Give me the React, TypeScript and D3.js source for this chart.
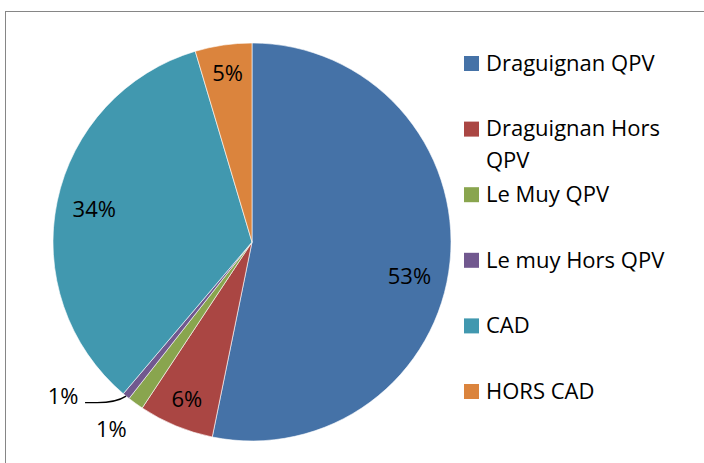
import React, { useEffect, useRef } from "react";
import * as d3 from "d3";

const categories = [
  "Draguignan QPV",
  "Draguignan Hors QPV",
  "Le Muy QPV",
  "Le muy Hors QPV",
  "CAD",
  "HORS CAD",
];
const values = [53.2, 6.1, 1.3, 0.6, 34.2, 4.6];
const colors = ["#4572A7", "#AA4643", "#89A54E", "#71588F", "#4198AF", "#DB843D"];

const W = 704;
const H = 463;
const font = "'Open Sans', Lato, sans-serif";

export default function App() {
  const ref = useRef<SVGSVGElement>(null);

  useEffect(() => {
    const svg = d3.select(ref.current);
    svg.selectAll("*").remove();

    // chart frame
    svg
      .append("rect")
      .attr("x", 5.5)
      .attr("y", 11.5)
      .attr("width", W + 10)
      .attr("height", H + 10)
      .attr("fill", "#fff")
      .attr("stroke", "#868686")
      .attr("stroke-width", 1);

    const cx = 252,
      cy = 242,
      radius = 199;
    const g = svg.append("g").attr("transform", `translate(${cx},${cy})`);

    const total = d3.sum(values);
    const pie = d3.pie<number>().sort(null).value((d) => d);
    const arcs = pie(values);
    const arc = d3.arc<d3.PieArcDatum<number>>().innerRadius(0).outerRadius(radius);

    g.selectAll("path")
      .data(arcs)
      .enter()
      .append("path")
      .attr("d", arc)
      .attr("fill", (d, i) => colors[i])
      .attr("stroke", "#fff")
      .attr("stroke-width", 0.6);

    const pct = (v: number) => Math.round((v / total) * 100) + "%";

    arcs.forEach((d, i) => {
      const mid = (d.startAngle + d.endAngle) / 2;
      const share = values[i] / total;
      // excel-ish best fit: big slices sit a bit closer to the centre
      let r = radius * (share > 0.2 ? 0.81 : 0.855);
      let a = mid;
      if (i === 0) a = mid + 0.115;
      if (i === 2) {
        r = radius * 1.175;
        a = mid + 0.02;
      }
      if (i === 3) {
        r = radius * 1.227;
        a = mid + 0.2;
      }
      const x = Math.sin(a) * r;
      const y = -Math.cos(a) * r;
      g.append("text")
        .attr("x", x)
        .attr("y", y)
        .attr("dy", "0.35em")
        .attr("text-anchor", "middle")
        .attr("font-family", font)
        .attr("font-size", 22)
        .attr("fill", "#000")
        .text(pct(values[i]));

      if (i === 3) {
        // leader line from label to slice edge
        const ex = Math.sin(mid) * radius;
        const ey = -Math.cos(mid) * radius;
        const sx = x + 22;
        const sy = y + 6;
        const path = d3.path();
        path.moveTo(sx, sy);
        path.lineTo(sx + 12, sy);
        path.quadraticCurveTo(ex - 10, sy, ex, ey);
        g.append("path")
          .attr("d", path.toString())
          .attr("fill", "none")
          .attr("stroke", "#000")
          .attr("stroke-width", 1.3);
      }
    });

    // legend
    const lx = 464,
      ly0 = 63.5,
      step = 65.6;
    const legend = svg.append("g");
    categories.forEach((c, i) => {
      const y = ly0 + i * step;
      legend
        .append("rect")
        .attr("x", lx)
        .attr("y", y - 7.5)
        .attr("width", 15)
        .attr("height", 15)
        .attr("fill", colors[i]);
      const words = c === "Draguignan Hors QPV" ? ["Draguignan Hors", "QPV"] : [c];
      words.forEach((w, j) => {
        legend
          .append("text")
          .attr("x", lx + 22)
          .attr("y", y + j * 32)
          .attr("dy", "0.33em")
          .attr("font-family", font)
          .attr("font-size", 22)
          .attr("fill", "#000")
          .text(w);
      });
    });
  }, []);

  return (
    <svg
      ref={ref}
      width={W}
      height={H}
      style={{ position: "absolute", left: 0, top: 0, background: "#fff" }}
    />
  );
}
